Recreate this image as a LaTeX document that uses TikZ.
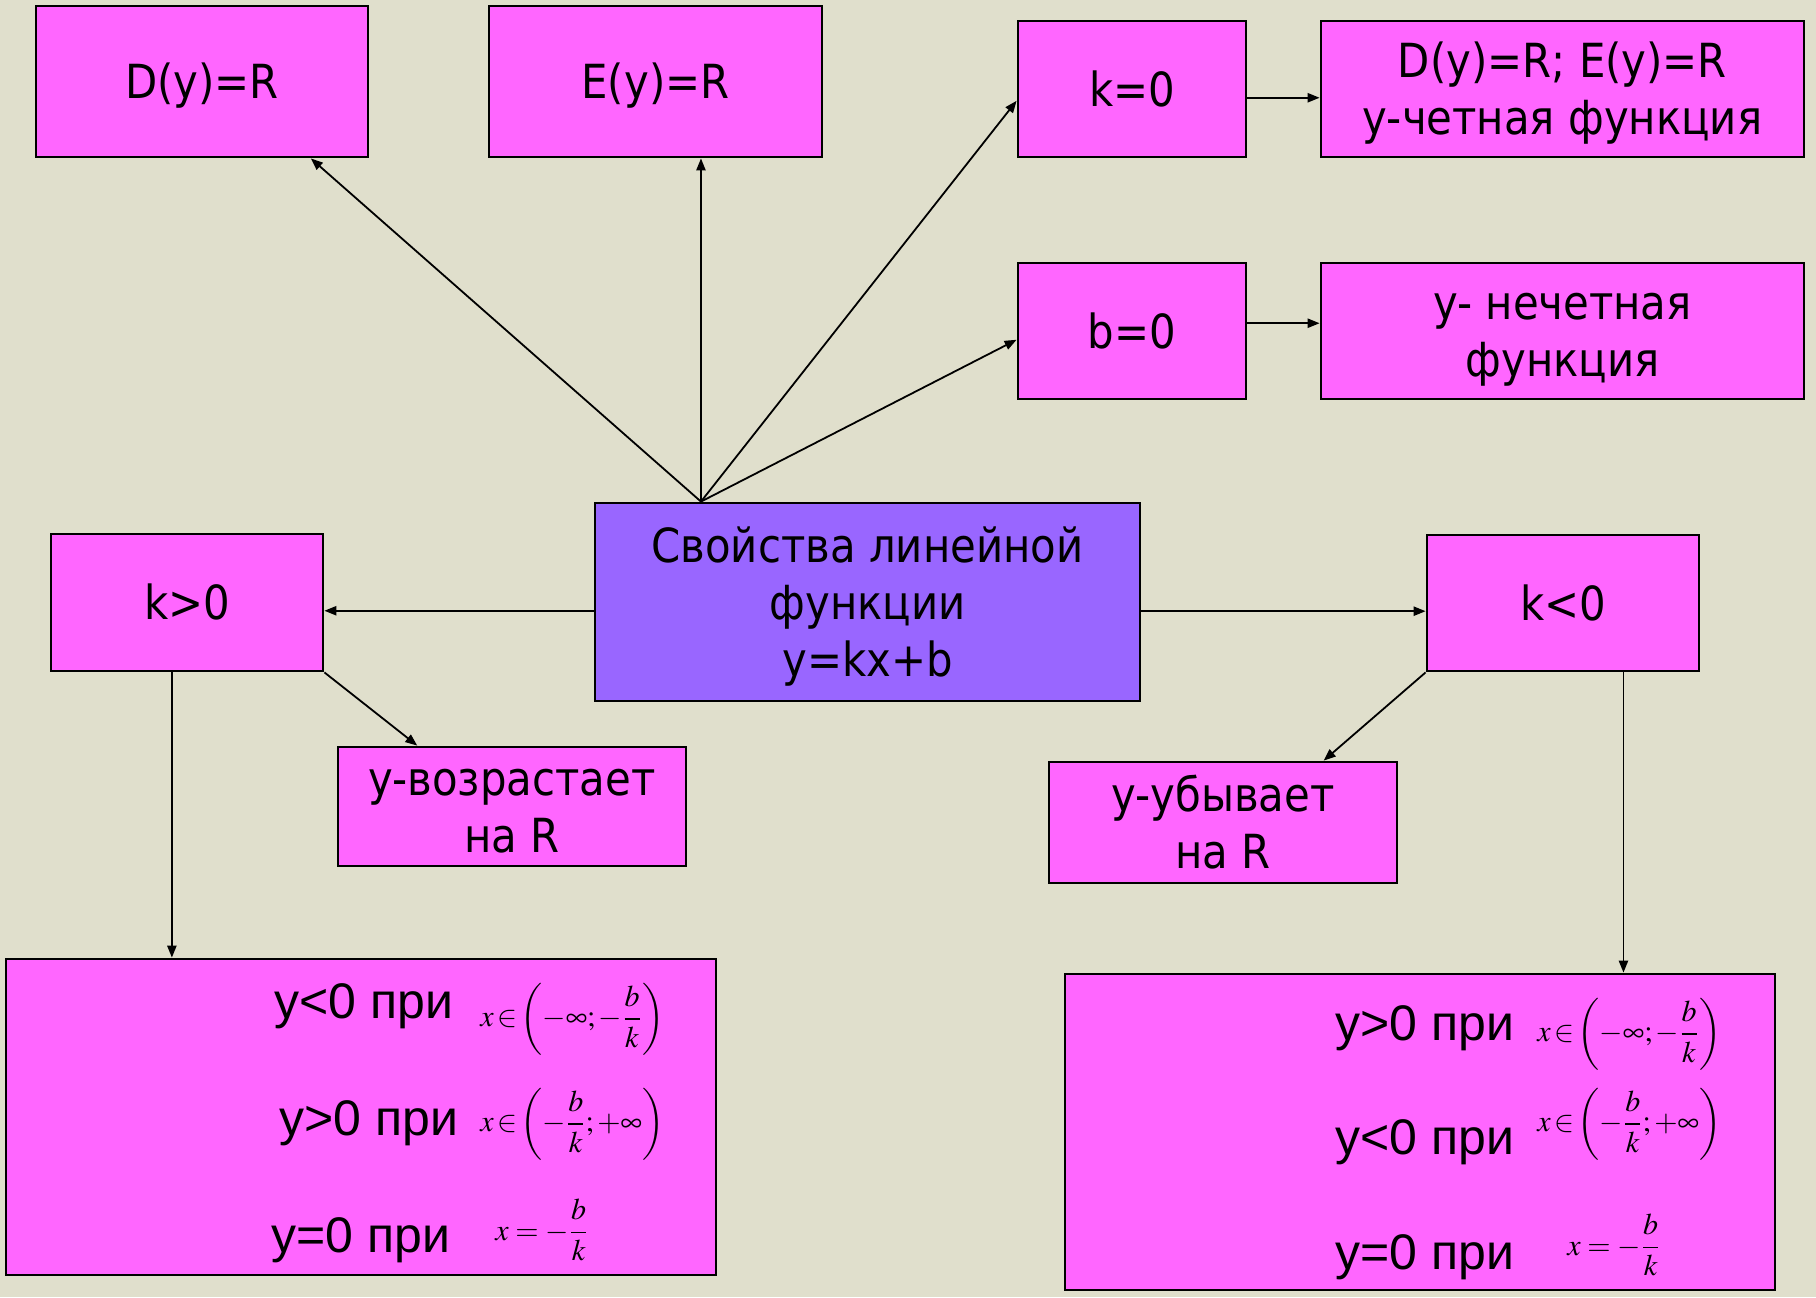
\documentclass[tikz,border=0pt]{standalone}
\usepackage{mathptmx}
\usepackage[no-math]{fontspec}
\setmainfont{DejaVu Sans}[FakeStretch=0.89]
\newfontfamily\arialfont{Liberation Sans}
\usetikzlibrary{arrows.meta,calc}
\definecolor{paper}{RGB}{224,223,204}
\definecolor{pinkbox}{RGB}{255,102,255}
\definecolor{violetbox}{RGB}{153,102,255}
% interval written with tight relation spacing and tall parentheses
\newcommand{\ival}[1]{\thickmuskip=2mu x\in\biggl(#1\biggr)}
% centred lines of equal pitch, capitals centred on the middle of each line slot
\newcommand{\stack}[1]{{\setbox\strutbox\hbox{\vrule height 22.85pt depth 5.65pt width 0pt}%
  \begin{tabular}{@{}c@{}}#1\end{tabular}}}
\begin{document}
\begin{tikzpicture}[x=0.5pt,y=-0.5pt,
  box/.style={draw=black, line width=1.4pt, fill=pinkbox, inner sep=0pt,
    font=\fontsize{23.5}{28.5}\selectfont},
  link/.style={line width=0.9pt, -{Triangle[length=6pt,width=4.6pt]}},
  rowtext/.style={font=\arialfont\fontsize{25}{30}\selectfont, inner sep=0pt, anchor=base west},
  mathtext/.style={inner sep=0pt, anchor=west, font=\fontsize{15}{18}\selectfont}]

% page background
\fill[paper] (0,0) rectangle (1816,1297);
\useasboundingbox (0,0) rectangle (1816,1297);

% top row
\node[box, minimum width=166pt, minimum height=75.5pt] (dbox) at (202,81.5) {\stack{D(y)=R}};
\node[box, minimum width=166.5pt, minimum height=75.5pt] (ebox) at (655.5,81.5) {\stack{E(y)=R}};
\node[box, minimum width=114pt, minimum height=68pt] (kzero) at (1132,89) {\stack{k=0}};
\node[box, minimum width=241.5pt, minimum height=68pt] (even) at (1562.5,89) {\stack{D(y)=R; E(y)=R\\y-четная функция}};
\node[box, minimum width=114pt, minimum height=68pt] (bzero) at (1132,331) {\stack{b=0}};
\node[box, minimum width=241.5pt, minimum height=68pt] (odd) at (1562.5,331) {\stack{y- нечетная\\функция}};

% central node
\node[box, fill=violetbox, minimum width=272.5pt, minimum height=99pt] (cen) at (867.5,602) {\stack{Свойства линейной\\функции\\y=kx+b}};

% sign of k
\node[box, minimum width=136pt, minimum height=68.5pt] (kpos) at (187,602.5) {\stack{k>0}};
\node[box, minimum width=136pt, minimum height=68pt] (kneg) at (1563,603) {\stack{k<0}};
\node[box, minimum width=174pt, minimum height=59.5pt] (inc) at (512,806.5) {\stack{y-возрастает\\на R}};
\node[box, minimum width=174pt, minimum height=60.5pt] (dec) at (1223,822.5) {\stack{y-убывает\\на R}};

% sign intervals
\node[box, minimum width=355pt, minimum height=158pt] (signpos) at (361,1117) {};
\node[box, minimum width=355pt, minimum height=158pt] (signneg) at (1420,1132) {};

\node[rowtext] (pa) at (274,1018) {y<0 при};
\node[mathtext] (pam) at (480,1019) {$\ival{-\infty;-\displaystyle\frac{b}{k}}$};
\node[rowtext] (pb) at (279,1135) {y>0 при};
\node[mathtext] (pbm) at (480,1124) {$\ival{-\displaystyle\frac{b}{k};+\infty}$};
\node[rowtext] (pc) at (271,1252) {y=0 при};
\node[mathtext] (pcm) at (495,1230) {$x=-\displaystyle\frac{b}{k}$};

\node[rowtext] (na) at (1335,1040) {y>0 при};
\node[mathtext] (nam) at (1537,1034) {$\ival{-\infty;-\displaystyle\frac{b}{k}}$};
\node[rowtext] (nb) at (1335,1154) {y<0 при};
\node[mathtext] (nbm) at (1537,1124) {$\ival{-\displaystyle\frac{b}{k};+\infty}$};
\node[rowtext] (nc) at (1335,1269) {y=0 при};
\node[mathtext] (ncm) at (1567,1245) {$x=-\displaystyle\frac{b}{k}$};

% connectors
\coordinate (fan) at ($(cen.north west)!0.196!(cen.north east)$);
\draw[link] (fan) -- ($(dbox.south west)!0.825!(dbox.south east)$);
\draw[link] (fan) -- (fan |- ebox.south);
\draw[link] (fan) -- ($(kzero.north west)!0.585!(kzero.south west)$);
\draw[link] (fan) -- ($(bzero.north west)!0.563!(bzero.south west)$);

\coordinate (kz) at ($(kzero.north east)!0.563!(kzero.south east)$);
\draw[link] (kz) -- (kz -| even.west);
\coordinate (bz) at ($(bzero.north east)!0.444!(bzero.south east)$);
\draw[link] (bz) -- (bz -| odd.west);

\coordinate (kp) at ($(kpos.north east)!0.559!(kpos.south east)$);
\draw[link] (kp -| cen.west) -- (kp);
\coordinate (kn) at ($(kneg.north west)!0.559!(kneg.south west)$);
\draw[link] (kn -| cen.east) -- (kn);

\draw[link] (kpos.south east) -- ($(inc.north west)!0.23!(inc.north east)$);
\coordinate (kpd) at ($(kpos.south west)!0.445!(kpos.south east)$);
\draw[link] (kpd) -- (kpd |- signpos.north);
\draw[link] (kneg.south west) -- ($(dec.north west)!0.787!(dec.north east)$);
\coordinate (knd) at ($(kneg.south west)!0.72!(kneg.south east)$);
\draw[link] (knd) -- (knd |- signneg.north);
\end{tikzpicture}
\end{document}
